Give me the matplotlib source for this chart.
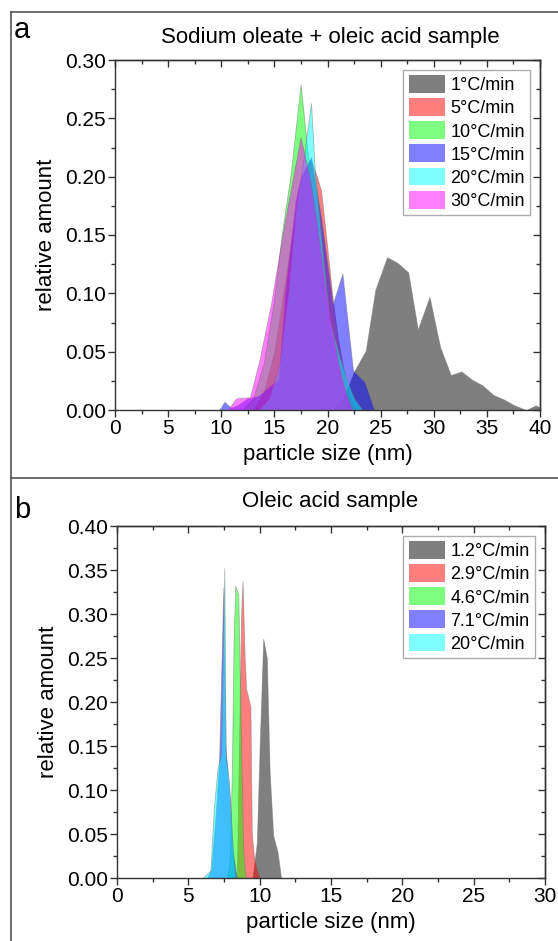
import matplotlib
matplotlib.use("Agg")
import matplotlib.pyplot as plt
from matplotlib.lines import Line2D
from matplotlib.ticker import MultipleLocator

plt.rcParams['font.family'] = ['Liberation Sans', 'DejaVu Sans']

# (a) sodium oleate + oleic acid sample
rates_a = ['1°C/min', '5°C/min', '10°C/min', '15°C/min', '20°C/min', '30°C/min']

size_a_1 = [20.5, 21.5, 22.5, 23.6, 24.5, 25.6, 26.6, 27.6, 28.5, 29.6, 30.6,
            31.6, 32.6, 33.6, 34.6, 35.6, 36.6, 37.6, 38.7, 39.6, 40.5]
amount_a_1 = [0, 0.010, 0.033, 0.051, 0.103, 0.131, 0.126, 0.118, 0.069, 0.097, 0.054,
              0.030, 0.033, 0.026, 0.021, 0.013, 0.009, 0.004, 0.0, 0.004, 0.0]

size_a_5 = [13.0, 14.0, 15.0, 16.0, 17.0, 17.6, 18.4, 19.0, 19.4, 19.9, 20.5,
            21.0, 21.5, 22.0, 22.6]
amount_a_5 = [0, 0.015, 0.05, 0.11, 0.17, 0.20, 0.215, 0.20, 0.188, 0.146, 0.094,
              0.06, 0.035, 0.015, 0]

size_a_10 = [12.0, 13.0, 14.0, 14.96, 15.7, 16.5, 17.47, 17.98, 18.5, 19.0, 19.5,
             20.0, 20.5, 21.0, 21.5, 22.0]
amount_a_10 = [0, 0.01, 0.04, 0.094, 0.151, 0.20, 0.279, 0.234, 0.19, 0.15, 0.11,
               0.075, 0.05, 0.03, 0.015, 0]

size_a_15 = [9.8, 10.3, 10.9, 11.5, 12.5, 13.5, 14.5, 15.4, 16.0, 17.0, 17.5,
             18.45, 19.4, 20.5, 21.4, 22.4, 23.5, 24.4]
amount_a_15 = [0, 0.007, 0.002, 0.004, 0.010, 0.012, 0.020, 0.026, 0.10, 0.18, 0.20,
               0.217, 0.165, 0.091, 0.117, 0.034, 0.024, 0]

size_a_20 = [13.5, 14.5, 15.5, 16.3, 17.0, 17.5, 18.45, 18.8, 19.6, 20.2, 21.0,
             21.8, 22.5, 23.3]
amount_a_20 = [0, 0.01, 0.04, 0.10, 0.17, 0.20, 0.263, 0.206, 0.129, 0.077, 0.05,
               0.026, 0.01, 0]

size_a_30 = [10.6, 11.4, 12.7, 13.6, 14.7, 16.0, 17.47, 18.3, 19.0, 19.7, 20.4,
             21.0, 21.7, 22.3]
amount_a_30 = [0, 0.010, 0.011, 0.043, 0.092, 0.163, 0.234, 0.20, 0.16, 0.11, 0.07,
               0.04, 0.015, 0]

# (b) oleic acid sample
rates_b = ['1.2°C/min', '2.9°C/min', '4.6°C/min', '7.1°C/min', '20°C/min']

size_b_12 = [9.5, 9.8, 10.0, 10.25, 10.5, 10.7, 10.95, 11.25, 11.5]
amount_b_12 = [0, 0.04, 0.15, 0.272, 0.25, 0.12, 0.048, 0.03, 0]

size_b_29 = [8.4, 8.55, 8.7, 8.8, 8.95, 9.05, 9.2, 9.35, 9.45, 9.6, 9.8, 10.0]
amount_b_29 = [0, 0.15, 0.30, 0.338, 0.25, 0.215, 0.205, 0.195, 0.05, 0.025, 0.01, 0]

size_b_46 = [7.7, 7.9, 8.05, 8.17, 8.29, 8.5, 8.7, 8.85, 9.0]
amount_b_46 = [0, 0.02, 0.12, 0.27, 0.332, 0.322, 0.15, 0.03, 0]

size_b_71 = [6.3, 6.6, 6.9, 7.15, 7.45, 7.6, 7.9, 8.1, 8.4]
amount_b_71 = [0, 0.01, 0.07, 0.13, 0.33, 0.15, 0.09, 0.03, 0]

size_b_20 = [6.0, 6.3, 6.55, 6.78, 7.05, 7.3, 7.52, 7.62, 7.85, 8.09, 8.3]
amount_b_20 = [0, 0.005, 0.008, 0.078, 0.125, 0.14, 0.352, 0.139, 0.109, 0.04, 0]

colors = ['black', 'red', 'lime', 'blue', 'cyan', 'magenta']

W, H = 558, 941
fig = plt.figure(figsize=(W / 100, H / 100), dpi=100)


def style_axes(ax, xmax, ymax):
    ax.set_xlim(0, xmax)
    ax.set_ylim(0, ymax)
    ax.xaxis.set_major_locator(MultipleLocator(5))
    ax.xaxis.set_minor_locator(MultipleLocator(2.5))
    ax.yaxis.set_major_locator(MultipleLocator(0.05))
    ax.yaxis.set_minor_locator(MultipleLocator(0.025))
    ax.yaxis.set_major_formatter('{x:.2f}')
    for s in ax.spines.values():
        s.set_color('#333333')
        s.set_linewidth(1.0)
    ax.tick_params(which='both', direction='out', top=False, right=False,
                   color='#333333', width=1.0, labelsize=15, pad=1.5)
    ax.tick_params(which='major', length=5)
    ax.tick_params(which='minor', length=3)
    # mirrored ticks on top/right point inward
    sec_x = ax.secondary_xaxis('top')
    sec_y = ax.secondary_yaxis('right')
    for sec in (sec_x, sec_y):
        sec.tick_params(which='both', direction='in', color='#333333', width=1.0)
        sec.tick_params(which='major', length=5)
        sec.tick_params(which='minor', length=3)
        for s in sec.spines.values():
            s.set_color('#333333')
            s.set_linewidth(1.0)
    sec_x.xaxis.set_major_locator(MultipleLocator(5))
    sec_x.xaxis.set_minor_locator(MultipleLocator(2.5))
    sec_y.yaxis.set_major_locator(MultipleLocator(0.05))
    sec_y.yaxis.set_minor_locator(MultipleLocator(0.025))
    sec_x.set_xticklabels([])
    sec_y.set_yticklabels([])
    ax.set_xlabel('particle size (nm)', fontsize=16, labelpad=4)
    ax.set_ylabel('relative amount', fontsize=16, labelpad=6)


def fill_series(ax, sizes, amounts, labels):
    for x, y, c, lab in zip(sizes, amounts, colors, labels):
        ax.fill_between(x, 0, y, color=c, alpha=0.5, linewidth=0.6,
                        edgecolor=(0.45, 0.45, 0.45, 0.35), label=lab)
    leg = ax.legend(loc='upper right', fontsize=13, frameon=True, fancybox=False,
                    handlelength=2.0, handleheight=1.15, labelspacing=0.22,
                    handletextpad=0.3, borderpad=0.3, borderaxespad=0.55)
    leg.get_frame().set_edgecolor('#999999')
    leg.get_frame().set_linewidth(1.0)
    for h in leg.legend_handles:
        h.set_edgecolor('none')


# panel a
ax1 = fig.add_axes([115 / W, 1 - 410 / H, 425 / W, 350 / H])
fill_series(ax1,
            [size_a_1, size_a_5, size_a_10, size_a_15, size_a_20, size_a_30],
            [amount_a_1, amount_a_5, amount_a_10, amount_a_15, amount_a_20, amount_a_30],
            rates_a)
style_axes(ax1, 40, 0.30)

# panel b
ax2 = fig.add_axes([117 / W, 1 - 878 / H, 428 / W, 352 / H])
fill_series(ax2,
            [size_b_12, size_b_29, size_b_46, size_b_71, size_b_20],
            [amount_b_12, amount_b_29, amount_b_46, amount_b_71, amount_b_20],
            rates_b)
style_axes(ax2, 30, 0.40)

# panel frame and divider
frame = dict(color='#555555', linewidth=1.2, transform=fig.transFigure)
fig.add_artist(Line2D([11 / W, 11 / W], [0, 1 - 12 / H], **frame))
fig.add_artist(Line2D([11 / W, 1], [1 - 12 / H, 1 - 12 / H], **frame))
fig.add_artist(Line2D([11 / W, 1], [1 - 478 / H, 1 - 478 / H], **frame))

fig.text(14 / W, 1 - 30 / H, 'a', fontsize=21, va='center', ha='left')
fig.text(330 / W, 1 - 38 / H, 'Sodium oleate + oleic acid sample', fontsize=16,
         va='center', ha='center')
fig.text(14 / W, 1 - 510 / H, 'b', fontsize=21, va='center', ha='left')
fig.text(330 / W, 1 - 502 / H, 'Oleic acid sample', fontsize=16,
         va='center', ha='center')

fig.savefig('out.png', dpi=100)
